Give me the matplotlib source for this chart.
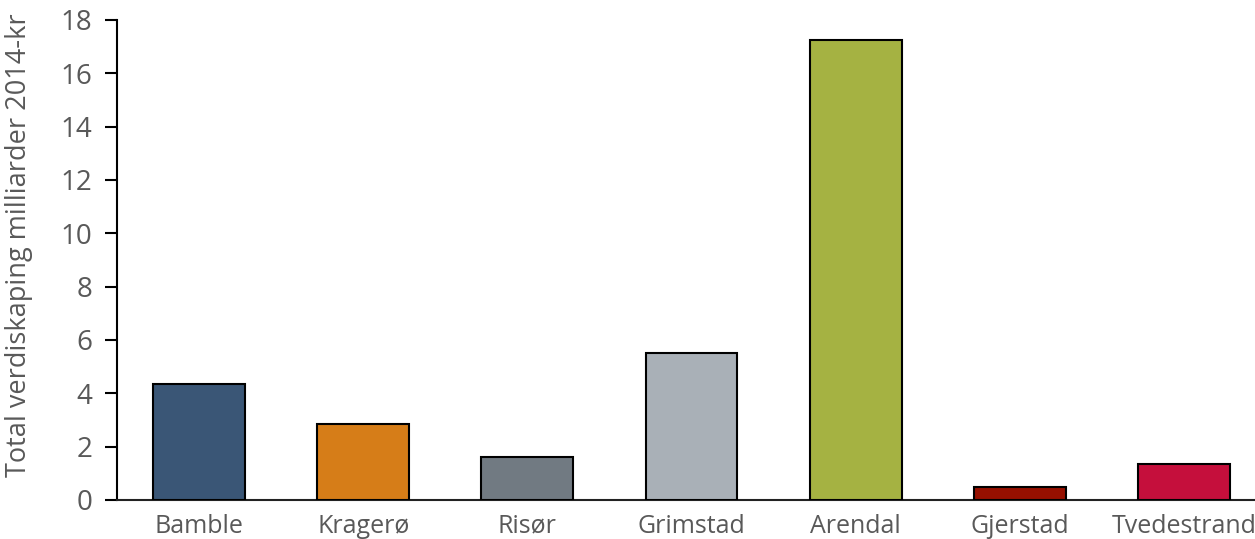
import matplotlib.pyplot as plt

kommuner = ['Bamble', 'Kragerø', 'Risør', 'Grimstad', 'Arendal', 'Gjerstad', 'Tvedestrand']
verdiskaping = [4.35, 2.85, 1.62, 5.51, 17.26, 0.48, 1.34]
farger = ['#3A5676', '#D67D18', '#717A82', '#A9B0B7', '#A5B242', '#961000', '#C50F3C']

plt.rcParams['font.family'] = ['Open Sans', 'DejaVu Sans']

fig = plt.figure(figsize=(12.55, 5.39), dpi=100)
# plot area runs slightly past the right edge, like the cropped original
ax = fig.add_axes([117 / 1255, 1 - 500 / 539, 1149 / 1255, 480 / 539])

ax.bar(range(len(kommuner)), verdiskaping, width=0.56, color=farger,
       edgecolor='black', linewidth=1.5, zorder=3)

ax.set_xlim(-0.5, len(kommuner) - 0.5)
ax.set_ylim(0, 18)
ax.set_yticks(range(0, 19, 2))
ax.set_xticks(range(len(kommuner)))
ax.set_xticklabels(kommuner)

ax.tick_params(axis='y', direction='out', length=9, width=1.5, colors='black',
               labelcolor='#595959', labelsize=20, pad=9)
ax.tick_params(axis='x', length=0, labelcolor='#595959', labelsize=18, pad=10)

for side in ['top', 'right']:
    ax.spines[side].set_visible(False)
ax.spines['left'].set_linewidth(1.5)
ax.spines['bottom'].set_linewidth(1.5)
ax.spines['bottom'].set_color('#222222')

ax.set_ylabel('Total verdiskaping milliarder 2014-kr', fontsize=19.5,
              color='#595959')
ax.yaxis.set_label_coords(-84 / 1149, 0.53)

fig.savefig('out.png', dpi=100)
